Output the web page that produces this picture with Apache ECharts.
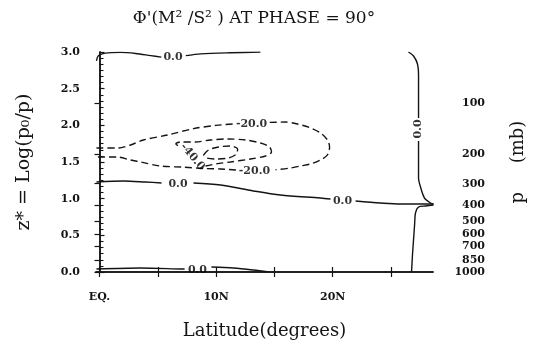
<!DOCTYPE html>
<html><head><meta charset="utf-8">
<script src="https://cdn.jsdelivr.net/npm/echarts@6/dist/echarts.min.js"></script>
<style>html,body{margin:0;padding:0;background:#fff}#c{width:549px;height:359px}</style>
</head><body><div id="c"></div>
<script>
// ---- text ----
const titleText = "Φ'(M² /S² ) AT PHASE = 90°";
const xName = 'Latitude(degrees)';
const yName = 'z* = Log(p₀/p)';
const pName = 'p     (mb)';

// ---- axes ----
const latTickValues = [0, 5, 10, 15, 20, 25];
const latLabelValues = [0, 10, 20];
const latLabelTexts = ['EQ.', '10N', '20N'];
const zMin = 0, zMax = 3, zStep = 0.5;
const pressureLevels = [100, 200, 300, 400, 500, 600, 700, 850, 1000];
const p0 = 1000;

// ---- contours: [latitude, z] ----
// -20 contour (dashed), three pieces separated by labels
const neg20A = [[-0.26,1.691],[1.63,1.691],[2.66,1.732],[3.77,1.80],[5.83,1.868],[8.06,1.955],[10.0,2.0],[11.5,2.018]];
const neg20B = [[14.6,2.04],[15.95,2.045],[16.98,2.018],[18.10,1.964],[18.95,1.896],[19.55,1.80],[19.73,1.705],[19.55,1.596],[18.95,1.527],[18.10,1.473],[17.24,1.446],[16.38,1.418],[15.1,1.395]];
const neg20C = [[11.7,1.391],[10.38,1.405],[9.09,1.41],[7.2,1.43],[5.23,1.445],[3.52,1.50],[2.66,1.527],[1.54,1.568],[-0.26,1.568]];
// -40 contour (dashed)
const neg40 = [[9.09,1.445],[9.95,1.473],[11.23,1.50],[12.95,1.541],[14.24,1.582],[14.75,1.636],[14.58,1.705],[13.81,1.759],[12.52,1.80],[10.98,1.814],[9.52,1.80],[8.23,1.773],[6.95,1.773],[6.55,1.745],[6.95,1.705]];
// -60 contour (dashed, unlabeled)
const neg60 = [[8.92,1.596],[9.35,1.664],[10.21,1.705],[11.23,1.718],[11.84,1.677],[11.75,1.609],[11.06,1.555],[9.95,1.541],[9.18,1.555],[8.92,1.596]];
// 0 contours (solid)
const zeroMidA = [[-0.26,1.227],[2.06,1.241],[3.95,1.227],[5.32,1.214]];
const zeroMidB = [[8.06,1.214],[10.38,1.186],[13.21,1.105],[15.52,1.05],[18.95,1.009],[19.81,0.995]];
const zeroMidC = [[21.96,0.968],[24.10,0.941],[25.81,0.927],[27.96,0.927],[28.64,0.927]];
const zeroRightUpperA = [[26.5,3.0],[26.93,2.945],[27.27,2.836],[27.36,2.686],[27.36,2.10]];
const zeroRightUpperB = [[27.36,1.786],[27.36,1.282],[27.53,1.159],[27.87,1.009],[28.39,0.941],[28.64,0.927]];
const zeroRightLower = [[28.64,0.914],[27.96,0.9],[27.36,0.886],[27.1,0.805],[27.02,0.641],[26.93,0.436],[26.84,0.232],[26.76,0.0]];
const zeroTopA = [[-0.26,2.88],[-0.1,2.95],[0.5,2.985],[1.8,2.995],[3.1,2.98],[4.4,2.95],[5.3,2.93]];
const zeroTopB = [[7.4,2.95],[8.7,2.975],[11.2,2.99],[13.8,2.998]];
const zeroBottomA = [[-0.26,0.041],[3.52,0.055],[6.95,0.041],[7.3,0.04]];
const zeroBottomB = [[9.6,0.068],[11.49,0.055],[13.21,0.027],[14.5,0.0]];

// contour labels: [latitude, z, text]
const contourLabels = [
  [13.04, 2.018, '-20.0'],
  [13.29, 1.377, '-20.0'],
  [7.98, 1.568, '-40.0'],
  [6.73, 1.20, '0.0'],
  [20.84, 0.968, '0.0'],
  [27.3, 1.95, '0.0'],
  [6.3, 2.93, '0.0'],
  [8.4, 0.027, '0.0']
];

// ---- build option ----
const ink = '#141414';
const serif = 'DejaVu Serif';
const labelRotations = {2: -50, 5: 90};
const pressureZ = pressureLevels.map(p => Math.log(p0 / p));

function contour(data, dashed) {
  return {
    type: 'line', data: data, showSymbol: false, symbol: 'none', smooth: 0.3,
    xAxisIndex: 0, yAxisIndex: 0, silent: true,
    lineStyle: {color: ink, width: 1.4, type: dashed ? [7, 4] : 'solid'},
    z: 3
  };
}

const series = [
  contour(neg20A, true), contour(neg20B, true), contour(neg20C, true),
  contour(neg40, true), contour(neg60, true),
  contour(zeroMidA, false), contour(zeroMidB, false), contour(zeroMidC, false),
  contour(zeroRightUpperA, false), contour(zeroRightUpperB, false), contour(zeroRightLower, false),
  contour(zeroTopA, false), contour(zeroTopB, false),
  contour(zeroBottomA, false), contour(zeroBottomB, false),
  {
    type: 'scatter', xAxisIndex: 0, yAxisIndex: 0, symbolSize: 0, silent: true, z: 5,
    data: contourLabels.map((d, i) => ({
      value: [d[0], d[1]],
      label: {
        show: true, position: 'inside', formatter: d[2],
        rotate: labelRotations[i] || 0,
        fontFamily: serif, fontWeight: 'bold', fontSize: 11, color: '#000'
      }
    }))
  }
];

const tickLabelStyle = {fontFamily: serif, fontWeight: 'bold', fontSize: 11, color: ink};
const nameStyle = {fontFamily: serif, fontSize: 18, color: ink};

const option = {
  animation: false,
  backgroundColor: '#fff',
  title: {
    text: titleText, left: 249, top: 5, textAlign: 'center',
    textStyle: {fontFamily: serif, fontSize: 17, fontWeight: 'normal', color: ink}
  },
  grid: {left: 96, right: 116, top: 52, bottom: 87, containLabel: false},
  xAxis: [
    {
      type: 'value', min: -0.3, max: 28.6, position: 'bottom',
      axisLine: {show: true, lineStyle: {color: ink, width: 1.5}},
      axisTick: {show: true, inside: true, length: 5, customValues: latTickValues, lineStyle: {color: ink, width: 1.2}},
      axisLabel: {
        show: true, customValues: latLabelValues, margin: 20, ...tickLabelStyle,
        formatter: v => latLabelTexts[latLabelValues.indexOf(Math.round(v))]
      },
      splitLine: {show: false},
      name: xName, nameLocation: 'middle', nameGap: 50, nameTextStyle: nameStyle
    },
    {
      type: 'value', min: -0.3, max: 28.6, position: 'top',
      axisLine: {show: true, lineStyle: {color: ink, width: 1.5}},
      axisTick: {show: true, inside: true, length: 5, customValues: latTickValues, lineStyle: {color: ink, width: 1.2}},
      axisLabel: {show: false},
      splitLine: {show: false}
    }
  ],
  yAxis: [
    {
      type: 'value', min: zMin, max: zMax, interval: zStep, position: 'left',
      axisLine: {show: true, lineStyle: {color: ink, width: 1.5}},
      axisTick: {show: true, inside: true, length: 5, lineStyle: {color: ink, width: 1.2}},
      minorTick: {show: true, splitNumber: 6, length: 4, lineStyle: {color: ink, width: 1.1}},
      axisLabel: {show: true, margin: 16, formatter: v => v.toFixed(1), ...tickLabelStyle},
      splitLine: {show: false},
      name: yName, nameLocation: 'middle', nameGap: 62, nameRotate: 90,
      nameTextStyle: Object.assign({}, nameStyle, {fontSize: 19})
    },
    {
      type: 'value', min: zMin, max: zMax, position: 'right',
      axisLine: {show: true, lineStyle: {color: ink, width: 1.5}},
      axisTick: {show: true, inside: true, length: 5, customValues: pressureZ, lineStyle: {color: ink, width: 1.2}},
      axisLabel: {
        show: true, customValues: pressureZ, margin: 52, align: 'right', ...tickLabelStyle,
        formatter: v => String(Math.round(p0 / Math.exp(v)))
      },
      splitLine: {show: false},
      name: pName, nameLocation: 'middle', nameGap: 76, nameRotate: 90, nameTextStyle: nameStyle
    }
  ],
  series: series
};

const chart = echarts.init(document.getElementById('c'), null, {renderer: 'canvas'});
chart.setOption(option);
</script>
</body></html>
